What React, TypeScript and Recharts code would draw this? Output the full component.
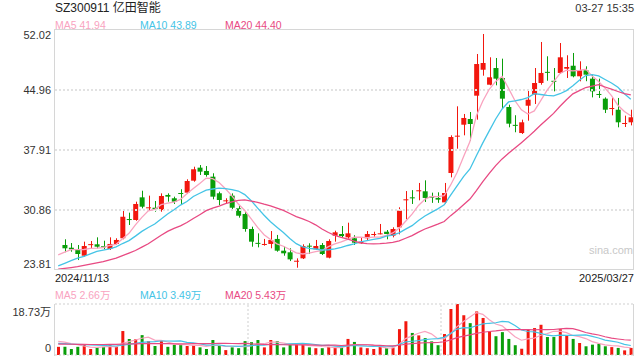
import { Bar, Cell, ComposedChart, Line, ReferenceLine, XAxis, YAxis } from "recharts"

const RED = "#f2170e"
const GREEN = "#0a9e0a"
const MA5_COLOR = "#f9a3bf"
const MA10_COLOR = "#45c4e6"
const MA20_COLOR = "#e84a83"
const FONT = "'Liberation Sans', Arial, 'Noto Sans CJK SC', sans-serif"

const PRICE_MIN = 23.81
const PRICE_MAX = 52.02
const priceTicks = [23.81, 30.86, 37.91, 44.96, 52.02]
const VOL_MAX = 18.73
const volTicks = [0, 18.73]

// daily OHLC, 2024/11/13 .. 2025/03/27 (first day has no candle drawn)
const opens = [null,
  26.75, 26.43, 26.28, 25.49, 26.8, 26.83, 26.6, 26.28, 26.87, 27.54,
  29.8, 29.69, 32.35, 31.1, 31.13, 30.86, 32.63, 32.24, 32.86, 32.9,
  34.31, 35.84, 35.45, 34.78, 32.83, 31.92, 32.55, 31.06, 30.39, 28.63,
  27.0, 26.83, 26.87, 27.46, 26.08, 25.89, 24.86, 25.18, 26.67, 26.24,
  26.75, 25.26, 27.84, 28.04, 27.65, 27.54, 26.95, 27.54, 27.97, 28.1,
  28.31, 27.84, 28.83, 32.0, 32.35, 33.1, 33.06, 32.43, 32.28, 31.76,
  35.21, 39.5, 40.89, 41.56, 44.3, 47.35, 45.59, 47.55, 46.38, 42.97,
  40.87, 39.91, 43.12, 44.42, 45.79, 47.1, 46.05, 46.97, 47.47, 47.82,
  46.58, 47.28, 46.3, 44.5, 43.95, 42.8, 42.65, 41.05, 41.17]
const highs = [null,
  27.42, 26.98, 26.75, 27.14, 27.22, 27.65, 27.25, 27.65, 27.54, 30.86,
  30.55, 31.84, 33.13, 32.55, 31.92, 32.82, 32.82, 32.43, 33.3, 34.47,
  35.95, 36.15, 36.03, 35.18, 33.02, 32.24, 32.82, 31.33, 30.66, 28.9,
  28.12, 27.46, 28.39, 27.93, 26.57, 26.36, 25.18, 26.83, 26.95, 27.34,
  26.98, 27.42, 28.43, 28.98, 29.37, 27.9, 27.6, 28.39, 28.31, 29.22,
  28.51, 28.83, 31.18, 33.09, 33.2, 34.04, 34.35, 32.9, 32.94, 34.04,
  39.64, 43.05, 42.15, 42.38, 49.2, 51.55, 48.81, 48.73, 48.65, 43.24,
  42.0, 41.48, 44.89, 47.55, 50.61, 48.93, 47.55, 50.49, 49.05, 49.32,
  48.34, 47.75, 46.77, 46.3, 44.1, 44.1, 44.03, 41.95, 42.65]
const lows = [null,
  25.9, 25.96, 24.98, 25.37, 26.36, 26.36, 26.24, 26.16, 26.75, 27.42,
  29.1, 29.6, 31.06, 30.86, 30.66, 30.66, 31.84, 31.57, 31.45, 32.74,
  34.19, 34.98, 34.78, 32.12, 31.45, 31.65, 30.98, 29.96, 28.31, 26.55,
  26.47, 26.67, 26.36, 25.96, 25.49, 24.86, 24.08, 25.1, 25.69, 26.16,
  25.57, 25.18, 27.14, 27.65, 27.42, 26.75, 26.9, 27.34, 27.72, 28.0,
  27.42, 27.65, 28.0, 29.77, 31.57, 32.0, 31.8, 31.7, 31.7, 31.6,
  34.7, 38.07, 39.64, 39.01, 41.48, 46.65, 45.52, 45.52, 42.85, 40.58,
  40.0, 39.8, 41.36, 43.32, 45.59, 46.06, 44.81, 46.85, 46.38, 46.46,
  45.99, 46.0, 44.1, 44.03, 42.26, 41.99, 40.58, 40.62, 40.81]
const closes = [null,
  26.36, 26.24, 25.69, 26.63, 26.85, 26.55, 26.55, 26.87, 27.34, 30.07,
  29.75, 31.57, 31.25, 31.18, 30.95, 32.51, 32.43, 31.84, 32.8, 34.27,
  35.65, 35.37, 34.98, 32.43, 32.04, 32.0, 31.13, 30.19, 28.63, 27.14,
  26.95, 26.87, 27.34, 26.08, 25.77, 25.06, 24.9, 26.63, 26.6, 26.63,
  25.69, 27.22, 28.24, 27.8, 28.12, 27.02, 27.14, 28.04, 28.04, 28.12,
  28.04, 28.63, 30.78, 32.12, 32.28, 33.18, 32.28, 32.39, 32.08, 32.86,
  39.44, 39.6, 41.68, 40.97, 48.02, 48.14, 46.46, 46.3, 43.95, 41.01,
  40.77, 41.17, 43.83, 45.79, 46.97, 47.0, 45.99, 48.81, 47.67, 46.58,
  47.28, 46.77, 44.81, 44.42, 42.65, 42.85, 41.17, 41.09, 41.76]

const ma5 = [
  25.6, 25.9, 26.2, 26.2, 26.22, 26.35, 26.39, 26.45, 26.69, 26.83,
  27.48, 28.12, 29.12, 30.0, 30.76, 30.94, 31.49, 31.66, 31.78, 32.11,
  32.77, 33.4, 33.99, 34.61, 34.54, 34.09, 33.36, 32.52, 31.56, 30.8,
  29.82, 28.81, 27.96, 27.39, 26.88, 26.6, 26.22, 25.83, 25.69, 25.79,
  25.96, 26.09, 26.55, 26.88, 27.12, 27.41, 27.68, 27.66, 27.62, 27.67,
  27.67, 27.88, 28.17, 28.72, 29.54, 30.37, 31.4, 32.13, 32.45, 32.44,
  32.56, 33.81, 35.27, 37.13, 38.91, 41.94, 43.68, 45.05, 45.98, 46.57,
  45.17, 43.7, 42.64, 42.15, 42.51, 43.71, 44.95, 45.92, 46.91, 47.29,
  47.21, 47.27, 47.42, 46.62, 45.97, 45.19, 44.3, 43.18, 42.44, 41.94]
const ma10 = [
  24.3, 24.6, 24.9, 25.2, 25.4, 25.7, 26.0, 26.15, 26.3, 26.53,
  26.92, 27.26, 27.79, 28.35, 28.8, 29.21, 29.81, 30.39, 30.89, 31.44,
  31.86, 32.45, 32.83, 33.2, 33.33, 33.43, 33.38, 33.26, 33.09, 32.67,
  31.96, 31.09, 30.24, 29.48, 28.84, 28.21, 27.52, 26.9, 26.54, 26.34,
  26.28, 26.16, 26.19, 26.29, 26.46, 26.69, 26.89, 27.11, 27.25, 27.4,
  27.54, 27.78, 27.92, 28.17, 28.61, 29.02, 29.64, 30.15, 30.59, 30.99,
  31.47, 32.61, 33.7, 34.79, 35.68, 37.25, 38.75, 40.16, 41.56, 42.74,
  43.56, 43.69, 43.85, 44.07, 44.54, 44.44, 44.33, 44.28, 44.53, 44.9,
  45.46, 46.11, 46.67, 46.77, 46.63, 46.2, 45.79, 45.3, 44.53, 43.89]
const ma20 = [
  23.9, 24.0, 24.1, 24.2, 24.35, 24.5, 24.65, 24.8, 25.0, 25.2,
  25.5, 25.8, 26.1, 26.5, 26.9, 27.4, 27.9, 28.35, 28.7, 28.99,
  29.39, 29.86, 30.31, 30.78, 31.07, 31.32, 31.6, 31.83, 31.99, 32.06,
  31.91, 31.77, 31.54, 31.34, 31.09, 30.82, 30.45, 30.08, 29.82, 29.51,
  29.12, 28.63, 28.22, 27.89, 27.65, 27.45, 27.21, 27.01, 26.9, 26.87,
  26.91, 26.97, 27.06, 27.23, 27.54, 27.86, 28.27, 28.63, 28.92, 29.2,
  29.51, 30.2, 30.81, 31.48, 32.15, 33.14, 34.2, 35.16, 36.08, 36.87,
  37.52, 38.15, 38.78, 39.43, 40.11, 40.85, 41.54, 42.22, 43.05, 43.82,
  44.51, 44.9, 45.26, 45.42, 45.59, 45.32, 45.06, 44.79, 44.53, 44.4]

// volume in 万
const volumes = [
  3.0, 3.0, 2.2, 3.0, 3.9, 2.2, 2.8, 3.0, 4.0, 3.0,
  8.8, 5.9, 5.8, 7.3, 5.1, 3.3, 5.2, 3.0, 3.7, 4.0,
  3.3, 3.7, 2.8, 2.2, 5.5, 3.3, 1.8, 2.8, 2.5, 5.1,
  4.7, 5.5, 2.8, 5.5, 5.1, 2.8, 3.7, 3.9, 3.9, 2.8,
  2.5, 2.5, 3.0, 2.7, 2.8, 5.9, 4.8, 2.8, 2.5, 2.2,
  3.0, 2.5, 2.7, 9.5, 12.4, 8.1, 7.2, 6.2, 5.0, 3.6,
  7.7, 16.9, 18.73, 14.6, 11.7, 16.0, 13.6, 8.7, 6.9, 8.4,
  5.9, 3.6, 2.3, 9.3, 9.9, 11.1, 6.6, 6.6, 9.5, 7.2,
  5.9, 4.4, 3.2, 3.8, 4.1, 3.2, 2.9, 2.6, 1.7, 2.6]
const volMa5 = [
  5.0, 4.7, 4.2, 3.8, 3.3, 2.86, 2.82, 2.98, 3.18, 3.0,
  4.32, 4.94, 5.5, 6.16, 6.58, 5.48, 5.34, 4.78, 4.06, 3.84,
  3.84, 3.54, 3.5, 3.2, 3.5, 3.5, 3.12, 3.12, 3.18, 3.1,
  3.38, 4.12, 4.12, 4.72, 4.72, 4.34, 3.98, 4.2, 3.88, 3.42,
  3.36, 3.12, 2.94, 2.7, 2.7, 3.38, 3.84, 3.8, 3.76, 3.64,
  3.06, 2.6, 2.58, 3.98, 6.02, 7.04, 7.98, 8.68, 7.78, 6.02,
  5.94, 7.88, 10.39, 12.31, 13.93, 15.59, 14.93, 12.92, 11.38, 10.72,
  8.7, 6.7, 5.42, 5.9, 6.2, 7.24, 7.84, 8.7, 8.74, 8.2,
  7.16, 6.72, 6.04, 4.9, 4.28, 3.74, 3.44, 3.32, 2.9, 2.66]
const volMa10 = [
  4.3, 4.2, 4.0, 3.9, 3.8, 3.7, 3.6, 3.5, 3.4, 3.3,
  3.59, 3.88, 4.24, 4.67, 4.79, 4.9, 5.14, 5.14, 5.11, 5.21,
  4.66, 4.44, 4.14, 3.63, 3.67, 3.67, 3.33, 3.31, 3.19, 3.3,
  3.44, 3.62, 3.62, 3.95, 3.91, 3.86, 4.05, 4.16, 4.3, 4.07,
  3.85, 3.55, 3.57, 3.29, 3.06, 3.37, 3.48, 3.37, 3.23, 3.17,
  3.22, 3.22, 3.19, 3.87, 4.83, 5.05, 5.29, 5.63, 5.88, 6.02,
  6.49, 7.93, 9.53, 10.04, 9.97, 10.76, 11.4, 11.65, 11.84, 12.32,
  12.14, 10.81, 9.17, 8.64, 8.46, 7.97, 7.27, 7.06, 7.32, 7.2,
  7.2, 7.28, 7.37, 6.82, 6.24, 5.45, 5.08, 4.68, 3.9, 3.49]
const volMa20 = [
  4.0, 4.0, 3.95, 3.9, 3.9, 3.85, 3.85, 3.85, 3.9, 3.9,
  4.0, 4.05, 4.1, 4.15, 4.2, 4.2, 4.2, 4.15, 4.1, 4.11,
  4.13, 4.16, 4.19, 4.15, 4.23, 4.29, 4.24, 4.23, 4.15, 4.26,
  4.05, 4.03, 3.88, 3.79, 3.79, 3.77, 3.69, 3.74, 3.75, 3.69,
  3.65, 3.59, 3.6, 3.62, 3.49, 3.62, 3.77, 3.77, 3.77, 3.62,
  3.54, 3.39, 3.38, 3.58, 3.95, 4.21, 4.39, 4.5, 4.56, 4.6,
  4.86, 5.58, 6.36, 6.96, 7.4, 7.91, 8.35, 8.64, 8.86, 9.17,
  9.32, 9.37, 9.35, 9.34, 9.22, 9.37, 9.34, 9.36, 9.58, 9.76,
  9.67, 9.05, 8.27, 7.73, 7.35, 6.71, 6.18, 5.87, 5.61, 5.43]

const rows = closes.map((close, i) => ({
  i,
  open: opens[i],
  high: highs[i],
  low: lows[i],
  close,
  range: close == null ? null : [lows[i], highs[i]],
  up: close == null || close >= (opens[i] as number),
  ma5: ma5[i],
  ma10: ma10[i],
  ma20: ma20[i],
  vol: volumes[i],
  vma5: volMa5[i],
  vma10: volMa10[i],
  vma20: volMa20[i],
}))

const Candle = (props: any) => {
  const { x, y, width, height, payload } = props
  if (!payload || payload.open == null) return null
  const { open, close, high, low } = payload
  const top = Math.min(y, y + height)
  const h = Math.abs(height)
  const k = h / (high - low || 1)
  const color = close >= open ? RED : GREEN
  const bodyTop = top + (high - Math.max(open, close)) * k
  const bodyBot = top + (high - Math.min(open, close)) * k
  const cx = Math.round(x + width / 2) + 0.5
  return (
    <g>
      <line x1={cx} x2={cx} y1={top} y2={top + h} stroke={color} strokeWidth={1} />
      <rect x={x} y={bodyTop} width={width} height={Math.max(1, bodyBot - bodyTop)} fill={color} />
    </g>
  )
}

const PriceTick = (props: any) => {
  const { x, y, payload } = props
  const v = payload.value
  const dy = v === PRICE_MAX ? 5 : v === PRICE_MIN ? -6.5 : 0
  return (
    <text x={x} y={y + dy} textAnchor="end" dominantBaseline="central" fontSize={11} fill="#333" fontFamily={FONT}>
      {v.toFixed(2)}
    </text>
  )
}

const VolTick = (props: any) => {
  const { x, y, payload } = props
  const v = payload.value
  const dy = v === VOL_MAX ? 7.5 : -7
  return (
    <text x={x} y={y + dy} textAnchor="end" dominantBaseline="central" fontSize={11} fill="#333" fontFamily={FONT}>
      {v === 0 ? "0" : v.toFixed(2) + "万"}
    </text>
  )
}

const Label = ({ x, y, color, children, size = 10.5, anchor = "start" }: any) => (
  <text x={x} y={y} fill={color} fontSize={size} textAnchor={anchor} dominantBaseline="central" fontFamily={FONT}>
    {children}
  </text>
)

export default function App() {
  return (
    <div style={{ position: "absolute", left: 0, top: 0, width: 640, height: 360, background: "#fff", fontFamily: FONT }}>
      <div style={{ position: "absolute", left: 0, top: 0 }}>
        <ComposedChart width={640} height={270} data={rows} margin={{ top: 30, right: 6, bottom: 0, left: 0 }}>
          <XAxis dataKey="i" type="category" hide />
          <YAxis
            domain={[PRICE_MIN, PRICE_MAX]}
            ticks={priceTicks}
            interval={0}
            width={55}
            axisLine={false}
            tickLine={false}
            tickSize={0}
            tickMargin={4}
            tick={<PriceTick />}
            allowDataOverflow
          />
          {priceTicks.slice(1, 4).map((t) => (
            <ReferenceLine key={t} y={t} stroke="#e2e2e2" strokeWidth={2} strokeDasharray="2 2" />
          ))}
          <Bar dataKey="range" barSize={5} shape={<Candle />} isAnimationActive={false} />
          <Line dataKey="ma5" stroke={MA5_COLOR} strokeWidth={1.3} dot={false} isAnimationActive={false} />
          <Line dataKey="ma10" stroke={MA10_COLOR} strokeWidth={1.3} dot={false} isAnimationActive={false} />
          <Line dataKey="ma20" stroke={MA20_COLOR} strokeWidth={1.3} dot={false} isAnimationActive={false} />
        </ComposedChart>
      </div>

      <div style={{ position: "absolute", left: 0, top: 300 }}>
        <ComposedChart width={640} height={56} data={rows} margin={{ top: 4, right: 6, bottom: 1, left: 0 }}>
          <XAxis dataKey="i" type="category" hide />
          <YAxis
            domain={[0, VOL_MAX]}
            ticks={volTicks}
            interval={0}
            width={55}
            axisLine={false}
            tickLine={false}
            tickSize={0}
            tickMargin={4}
            tick={<VolTick />}
            allowDataOverflow
          />
          <ReferenceLine y={VOL_MAX} stroke="#cfcfcf" strokeDasharray="2 2" />
          <ReferenceLine y={0} stroke="#cfcfcf" strokeDasharray="2 2" />
          <ReferenceLine x={29} position="end" stroke="#cfcfcf" strokeDasharray="2 2" />
          <ReferenceLine x={59} position="end" stroke="#cfcfcf" strokeDasharray="2 2" />
          <Bar dataKey="vol" barSize={3} isAnimationActive={false}>
            {rows.map((r) => (
              <Cell key={r.i} fill={r.up ? RED : GREEN} />
            ))}
          </Bar>
          <Line dataKey="vma5" stroke={MA5_COLOR} strokeWidth={1.2} dot={false} isAnimationActive={false} />
          <Line dataKey="vma10" stroke={MA10_COLOR} strokeWidth={1.2} dot={false} isAnimationActive={false} />
          <Line dataKey="vma20" stroke={MA20_COLOR} strokeWidth={1.2} dot={false} isAnimationActive={false} />
        </ComposedChart>
      </div>

      <svg width={640} height={360} style={{ position: "absolute", left: 0, top: 0, pointerEvents: "none" }}>
        <rect x={54.5} y={29.5} width={579} height={240} fill="none" stroke="#d6d6d6" />
        <line x1={54.5} x2={54.5} y1={304} y2={356} stroke="#d6d6d6" />
        <line x1={633.5} x2={633.5} y1={304} y2={356} stroke="#d6d6d6" />
        <Label x={55} y={8} color="#222" size={12}>SZ300911 亿田智能</Label>
        <Label x={634} y={8} color="#333" size={11} anchor="end">03-27 15:35</Label>
        <Label x={55} y={24.5} color={MA5_COLOR}>MA5 41.94</Label>
        <Label x={140} y={24.5} color={MA10_COLOR}>MA10 43.89</Label>
        <Label x={225} y={24.5} color={MA20_COLOR}>MA20 44.40</Label>
        <Label x={589} y={250} color="#c8c8c8" size={11}>sina.com</Label>
        <Label x={55} y={277.5} color="#222" size={11}>2024/11/13</Label>
        <Label x={634} y={277.5} color="#222" size={11} anchor="end">2025/03/27</Label>
        <Label x={55} y={295} color={MA5_COLOR}>MA5 2.66万</Label>
        <Label x={140} y={295} color={MA10_COLOR}>MA10 3.49万</Label>
        <Label x={225} y={295} color={MA20_COLOR}>MA20 5.43万</Label>
      </svg>
    </div>
  )
}
